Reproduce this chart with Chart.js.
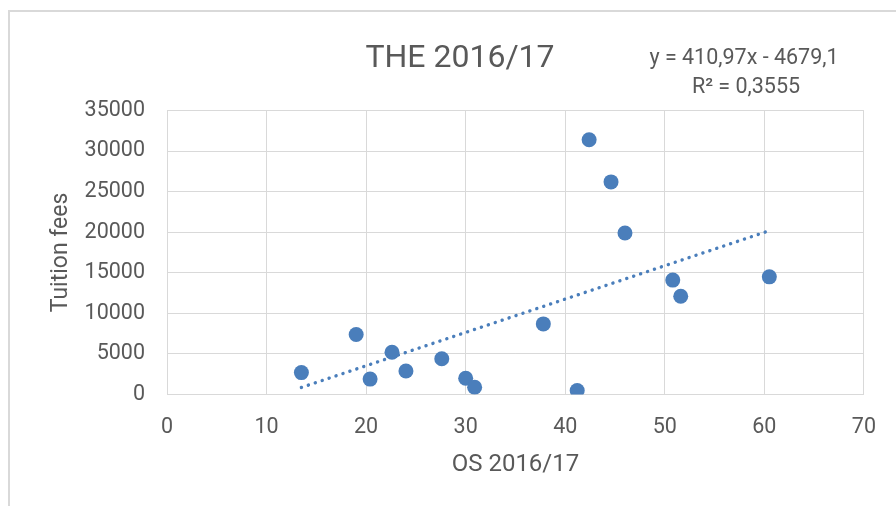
<!DOCTYPE html>
<html>
<head>
<meta charset="utf-8">
<script src="https://cdn.jsdelivr.net/npm/chart.js@4"></script>
<style>
  html, body { margin: 0; padding: 0; background: #fff; }
  #wrap { position: relative; width: 896px; height: 506px; overflow: hidden; }
  #frame { position: absolute; left: 8px; top: 10px; right: -4px; bottom: -4px;
           border-left: 2px solid #d9d9d9; border-top: 2px solid #d9d9d9; }
  #chart { position: absolute; left: 0; top: 0; }
</style>
</head>
<body>
<div id="wrap">
  <div id="frame"></div>
  <canvas id="chart" width="896" height="506"></canvas>
</div>
<script>
// Data
const osScores = [13.5, 19.0, 20.4, 22.6, 24.0, 27.6, 30.0, 30.9, 37.8, 41.2, 42.4, 44.6, 46.0, 50.8, 51.6, 60.5];
const tuitionFees = [2700, 7400, 1900, 5200, 2900, 4400, 2000, 900, 8700, 500, 31400, 26200, 19900, 14100, 12100, 14500];

// Axis ranges
const xRange = [0, 70, 10];
const yRange = [0, 35000, 5000];

// Linear trendline from the label
const trendSlope = 410.97;
const trendIntercept = -4679.1;
const trendLabel = ['y = 410,97x - 4679,1', 'R² = 0,3555'];
const chartTitle = 'THE 2016/17';
const xTitle = 'OS 2016/17';
const yTitle = 'Tuition fees';

const textColor = '#595959';
const gridColor = '#d9d9d9';
const pointColor = '#4a7ebb';
const fontFamily = 'Roboto, sans-serif';

const scatterPoints = osScores.map((x, i) => ({ x: x, y: tuitionFees[i] }));
const xMin = Math.min(...osScores);
const xMax = Math.max(...osScores);
const trendPoints = [xMin, xMax].map(x => ({ x: x, y: trendSlope * x + trendIntercept }));

// Title and equation text
const textPlugin = {
  id: 'texts',
  afterDraw(chart) {
    const ctx = chart.ctx;
    ctx.save();
    ctx.fillStyle = textColor;
    ctx.textAlign = 'center';
    ctx.textBaseline = 'alphabetic';
    ctx.font = '32px ' + fontFamily;
    ctx.fillText(chartTitle, 460, 67);
    ctx.font = '21.5px ' + fontFamily;
    ctx.fillText(trendLabel[0], 744, 64);
    ctx.fillText(trendLabel[1], 746, 93);
    ctx.restore();
  }
};

new Chart(document.getElementById('chart'), {
  type: 'scatter',
  data: {
    datasets: [
      {
        label: 'Trend',
        data: trendPoints,
        showLine: true,
        borderColor: pointColor,
        borderWidth: 3.4,
        borderDash: [0.1, 7.2],
        borderCapStyle: 'round',
        pointRadius: 0,
        order: 0
      },
      {
        label: 'Tuition fees',
        data: scatterPoints,
        backgroundColor: pointColor,
        borderWidth: 0,
        pointRadius: 7.5,
        order: 1
      }
    ]
  },
  options: {
    responsive: false,
    animation: false,
    devicePixelRatio: 1,
    layout: { padding: { top: 110.5, right: 27, left: 0, bottom: 0 } },
    plugins: {
      legend: { display: false },
      tooltip: { enabled: false }
    },
    scales: {
      x: {
        type: 'linear',
        min: xRange[0],
        max: xRange[1],
        afterFit: scale => { scale.height = 111.5; },
        ticks: {
          stepSize: xRange[2],
          color: textColor,
          padding: 20,
          font: { family: fontFamily, size: 21.5 }
        },
        grid: { color: gridColor, drawTicks: false },
        border: { color: gridColor },
        title: {
          display: true,
          text: xTitle,
          color: textColor,
          padding: { top: 0, bottom: 27 },
          font: { family: fontFamily, size: 24 }
        }
      },
      y: {
        type: 'linear',
        min: yRange[0],
        max: yRange[1],
        afterFit: scale => { scale.width = 167; },
        ticks: {
          stepSize: yRange[2],
          color: textColor,
          padding: 22,
          font: { family: fontFamily, size: 21.5 },
          callback: value => String(value)
        },
        grid: { color: gridColor, drawTicks: false },
        border: { color: gridColor },
        title: {
          display: true,
          text: yTitle,
          color: textColor,
          padding: { top: 47, bottom: 0 },
          font: { family: fontFamily, size: 23 }
        }
      }
    }
  },
  plugins: [textPlugin]
});
</script>
</body>
</html>
